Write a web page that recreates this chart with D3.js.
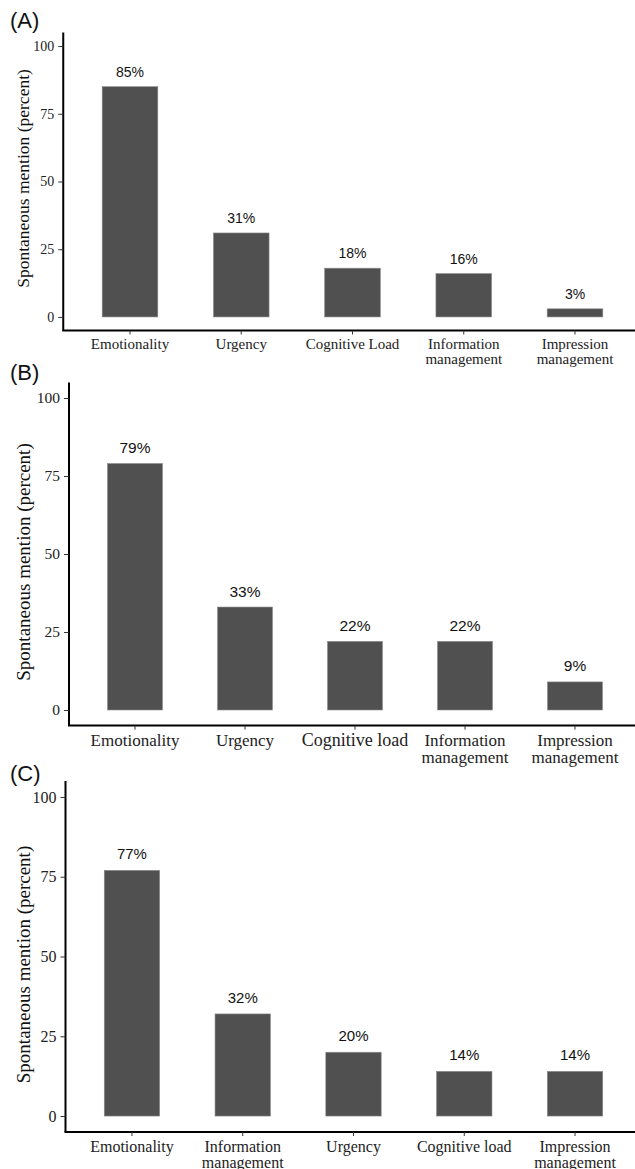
<!DOCTYPE html>
<html>
<head>
<meta charset="utf-8">
<script src="https://cdn.jsdelivr.net/npm/d3@7"></script>
<style>
  html, body { margin: 0; padding: 0; background: #fff; }
  svg { display: block; }
</style>
</head>
<body>
<svg id="chart" width="635" height="1169"></svg>
<script>
// Categories and percentages for each of the three panels
const categoriesA = ["Emotionality", "Urgency", "Cognitive Load", "Information\nmanagement", "Impression\nmanagement"];
const valuesA = [85, 31, 18, 16, 3];

const categoriesB = ["Emotionality", "Urgency", "Cognitive load", "Information\nmanagement", "Impression\nmanagement"];
const valuesB = [79, 33, 22, 22, 9];

const categoriesC = ["Emotionality", "Information\nmanagement", "Urgency", "Cognitive load", "Impression\nmanagement"];
const valuesC = [77, 32, 20, 14, 14];

const yTicks = [0, 25, 50, 75, 100];
const panelTags = ["(A)", "(B)", "(C)"];
const yTitle = "Spontaneous mention (percent)";

// Per-panel geometry and type sizes
const layouts = [
  { x0: 63.25, x1: 641.75, yBottom: 330.5, yTop: 32.5, tagY: 28, titleSize: 17.5, titleX: 23,
    xFont: 15, yFont: 14, valFont: 14, valGap: 10, xLabY: 349, lineH: 15, special: {} },
  { x0: 69, x1: 641, yBottom: 725.6, yTop: 382.4, tagY: 380, titleSize: 19, titleX: 23,
    xFont: 17, yFont: 15.5, valFont: 15.5, valGap: 10.5, xLabY: 745.5, lineH: 17, special: { "Cognitive load": 18 } },
  { x0: 65.5, x1: 641.5, yBottom: 1132, yTop: 781, tagY: 781, titleSize: 19, titleX: 23,
    xFont: 16, yFont: 16, valFont: 15, valGap: 11, xLabY: 1151.5, lineH: 16.5, special: {} }
];

const panels = [
  { cats: categoriesA, vals: valuesA },
  { cats: categoriesB, vals: valuesB },
  { cats: categoriesC, vals: valuesC }
];

const svg = d3.select("#chart");
const serif = "'Liberation Serif', 'Times New Roman', serif";
const sans = "'Liberation Sans', Arial, sans-serif";
const barFill = "#505050";

panels.forEach((p, i) => {
  const L = layouts[i];
  const g = svg.append("g");

  const x = d3.scaleBand()
    .domain(p.cats)
    .range([L.x0, L.x1])
    .paddingInner(0.5)
    .paddingOuter(0.35);

  const y = d3.scaleLinear()
    .domain([-5, 105])
    .range([L.yBottom, L.yTop]);

  // Bars
  g.selectAll("rect.bar")
    .data(p.vals)
    .join("rect")
    .attr("class", "bar")
    .attr("x", (d, j) => x(p.cats[j]))
    .attr("width", x.bandwidth())
    .attr("y", d => y(d))
    .attr("height", d => y(0) - y(d))
    .attr("fill", barFill)
    .attr("stroke", "#8a8a8a")
    .attr("stroke-width", 0.6);

  // Value labels
  g.selectAll("text.val")
    .data(p.vals)
    .join("text")
    .attr("class", "val")
    .attr("x", (d, j) => x(p.cats[j]) + x.bandwidth() / 2)
    .attr("y", d => y(d) - L.valGap)
    .attr("text-anchor", "middle")
    .attr("font-family", sans)
    .attr("font-size", L.valFont)
    .attr("fill", "#111")
    .text(d => d + "%");

  // Y axis
  const yAxis = d3.axisLeft(y).tickValues(yTicks).tickSize(5).tickPadding(4).tickSizeOuter(0);
  const ya = g.append("g").attr("transform", `translate(${L.x0},0)`).call(yAxis);
  ya.select(".domain").attr("stroke", "#000").attr("stroke-width", 2)
    .attr("d", `M0,${L.yTop}V${L.yBottom}`);
  ya.selectAll(".tick line").attr("stroke", "#333").attr("stroke-width", 1);
  ya.selectAll(".tick text")
    .attr("font-family", serif)
    .attr("font-size", L.yFont)
    .attr("fill", "#222");

  // X axis
  const xAxis = d3.axisBottom(x).tickSize(4).tickSizeOuter(0).tickFormat(() => "");
  const xa = g.append("g").attr("transform", `translate(0,${L.yBottom})`).call(xAxis);
  xa.select(".domain").attr("stroke", "#000").attr("stroke-width", 2)
    .attr("d", `M${L.x0 - 1},0H${L.x1}`);
  xa.selectAll(".tick line").attr("stroke", "#333").attr("stroke-width", 1);

  // Category labels (multi-line, top aligned)
  p.cats.forEach(c => {
    const lines = c.split("\n");
    const t = g.append("text")
      .attr("x", x(c) + x.bandwidth() / 2)
      .attr("y", L.xLabY)
      .attr("text-anchor", "middle")
      .attr("font-family", serif)
      .attr("font-size", L.special[c] || L.xFont)
      .attr("fill", "#222");
    lines.forEach((ln, k) => {
      t.append("tspan")
        .attr("x", x(c) + x.bandwidth() / 2)
        .attr("dy", k === 0 ? 0 : L.lineH)
        .text(ln);
    });
  });

  // Y axis title
  const yMid = (L.yTop + L.yBottom) / 2 + (i === 0 ? -3 : 8);
  g.append("text")
    .attr("transform", `translate(${L.titleX},${yMid}) rotate(-90)`)
    .attr("dy", "0.35em")
    .attr("text-anchor", "middle")
    .attr("font-family", serif)
    .attr("font-size", L.titleSize)
    .attr("fill", "#111")
    .text(yTitle);

  // Panel tag
  g.append("text")
    .attr("x", 10)
    .attr("y", L.tagY)
    .attr("font-family", sans)
    .attr("font-size", 22)
    .attr("fill", "#111")
    .text(panelTags[i]);
});
</script>
</body>
</html>
